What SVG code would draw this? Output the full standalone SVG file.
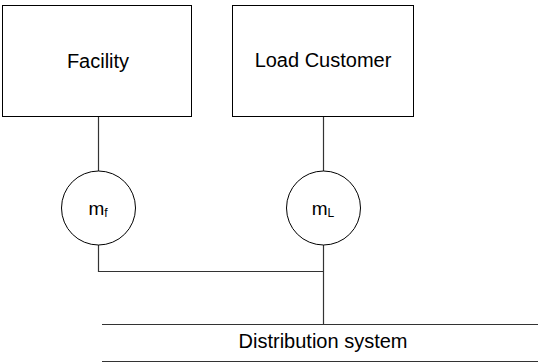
<svg xmlns="http://www.w3.org/2000/svg" width="538" height="363" viewBox="0 0 538 363">
<style>
.box{fill:#fff;stroke:#000;stroke-width:1}
.meter{fill:#fff;stroke:#000;stroke-width:1}
.wire{fill:none;stroke:#333;stroke-width:1.2}
.lbl{font-family:"Liberation Sans",Arial,sans-serif;font-size:20px;fill:#000;text-anchor:middle}
.m{font-size:19px}
.sub{font-size:12px}
</style>
<rect width="538" height="363" fill="#fff"/>
<g id="connectors">
<line class="wire" x1="98.5" y1="116" x2="98.5" y2="171"/>
<line class="wire" x1="323.5" y1="116" x2="323.5" y2="171"/>
<polyline class="wire" points="98.5,245 98.5,271.5 323.5,271.5"/>
<line class="wire" x1="323.5" y1="245" x2="323.5" y2="324"/>
</g>
<g id="facility">
<rect class="box" x="2.5" y="5.5" width="189" height="111"/>
<text class="lbl" x="98" y="68">Facility</text>
</g>
<g id="load-customer">
<rect class="box" x="232.5" y="5.5" width="181" height="111"/>
<text class="lbl" x="323" y="67">Load Customer</text>
</g>
<g id="meter-f">
<circle class="meter" cx="98.5" cy="208" r="37"/>
<text class="lbl m" x="98" y="215">m<tspan class="sub" dy="2">f</tspan></text>
</g>
<g id="meter-L">
<circle class="meter" cx="323.5" cy="208" r="37"/>
<text class="lbl m" x="323" y="215">m<tspan class="sub" dy="2">L</tspan></text>
</g>
<g id="distribution-system">
<line class="wire" x1="102" y1="324.5" x2="538" y2="324.5"/>
<line class="wire" x1="102" y1="361.5" x2="538" y2="361.5"/>
<text class="lbl" x="323" y="348">Distribution system</text>
</g>
</svg>
